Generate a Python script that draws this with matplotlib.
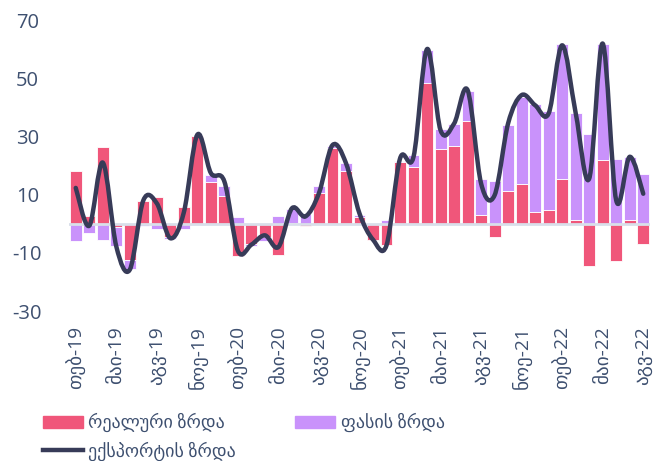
import numpy as np
import matplotlib
matplotlib.use('Agg')
import matplotlib.pyplot as plt
from matplotlib.path import Path
from matplotlib.patches import PathPatch, Patch
from matplotlib.lines import Line2D

plt.rcParams['font.family'] = ['Open Sans', 'DejaVu Sans']
plt.rcParams['axes.unicode_minus'] = False

# monthly, Feb-2019 .. Aug-2022
tick_labels = ['თებ-19', 'მაი-19', 'აგვ-19', 'ნოე-19',
               'თებ-20', 'მაი-20', 'აგვ-20', 'ნოე-20',
               'თებ-21', 'მაი-21', 'აგვ-21', 'ნოე-21',
               'თებ-22', 'მაი-22', 'აგვ-22']

real_growth = [18.0, 2.7, 26.3, -1.2, -12.4, 7.9, 9.2, -4.5, 5.7, 30.3,
               14.5, 9.4, -11.2, -7.0, -4.6, -10.7, 0.2, -0.9, 10.5, 26.0,
               18.0, 2.3, -5.5, -7.2, 21.2, 19.5, 48.2, 25.5, 26.7, 35.3,
               2.9, -4.7, 11.3, 13.5, 4.0, 4.6, 15.4, 1.2, -14.5, 21.8,
               -12.8, 1.4, -7.0]
price_growth = [-6.1, -3.2, -5.5, -6.6, -3.1, -0.9, -1.8, -0.8, -1.8, -0.5,
                2.3, 3.4, 2.3, -0.8, -1.4, 2.7, 4.8, 3.4, 2.3, 0.8,
                3.0, 0.8, 0.0, 1.1, 0.5, 4.0, 11.4, 6.9, 7.4, 10.2,
                12.4, 14.7, 22.5, 30.1, 37.1, 34.1, 46.2, 36.9, 30.7, 40.1,
                22.4, 21.6, 17.2]
export_growth = [12.3, -0.7, 21.0, -7.8, -15.8, 8.0, 7.0, -5.0, 3.9, 30.6,
                 17.4, 14.5, -9.3, -7.2, -4.0, -8.0, 5.3, 2.5, 10.5, 27.0,
                 20.8, 3.5, -5.5, -7.4, 22.4, 23.0, 60.0, 32.1, 34.4, 45.9,
                 13.8, 9.8, 34.5, 44.2, 40.7, 37.9, 61.3, 38.0, 15.5, 61.9,
                 8.0, 23.0, 10.3]

RED = '#f0567a'
PURPLE = '#c992fb'
NAVY = '#373b58'
TEXT = '#3e5070'


def smooth_path(xs, ys):
    # excel-like smoothed line: bezier segments with catmull-rom controls
    pts = np.column_stack([xs, ys]).astype(float)
    n = len(pts)
    verts = [pts[0]]
    codes = [Path.MOVETO]
    for i in range(n - 1):
        p0 = pts[i - 1] if i > 0 else pts[i]
        p1 = pts[i]
        p2 = pts[i + 1]
        p3 = pts[i + 2] if i + 2 < n else pts[i + 1]
        verts += [p1 + (p2 - p0) / 6, p2 - (p3 - p1) / 6, p2]
        codes += [Path.CURVE4] * 3
    return Path(verts, codes)


x = np.arange(len(real_growth))
real = np.array(real_growth)
price = np.array(price_growth)
price_bottom = np.where(price >= 0, np.maximum(real, 0), np.minimum(real, 0))

fig = plt.figure(figsize=(6.68, 4.61), dpi=100)
ax = fig.add_axes([69/668, 1 - 311/461, 581/668, 291/461])

ax.bar(x, real, width=0.88, color=RED, edgecolor='white', linewidth=0.6, zorder=2)
ax.bar(x, price, bottom=price_bottom, width=0.88, color=PURPLE,
       edgecolor='white', linewidth=0.6, zorder=2)
ax.axhline(0, color='#d9dfea', linewidth=2, zorder=2.5)
ax.add_patch(PathPatch(smooth_path(x, export_growth), facecolor='none',
                       edgecolor=NAVY, linewidth=3.2, capstyle='round',
                       joinstyle='round', zorder=3))

ax.set_xlim(-0.5, len(x) - 0.5)
ax.set_ylim(-30, 70)
ax.set_yticks([-30, -10, 10, 30, 50, 70])
ax.set_xticks(x[::3])
ax.set_xticklabels(tick_labels, rotation=90, fontsize=13.8, color=TEXT)
for s in ax.spines.values():
    s.set_visible(False)
ax.tick_params(axis='both', length=0)
ax.tick_params(axis='y', labelsize=14.5, labelcolor=TEXT, pad=30)
for lbl in ax.get_yticklabels():
    lbl.set_horizontalalignment('center')
ax.tick_params(axis='x', pad=11)

handles = [Patch(color=RED), Line2D([], [], color=NAVY, linewidth=3.2),
           Patch(color=PURPLE)]
labels = ['რეალური ზრდა', 'ექსპორტის ზრდა', 'ფასის ზრდა']
fig.legend(handles, labels, ncol=2, loc='upper left',
           bbox_to_anchor=(43/668, 1 - 413/461), frameon=False,
           borderpad=0, borderaxespad=0, fontsize=13, labelcolor=TEXT,
           handlelength=2.2, handletextpad=0.3, columnspacing=3.3,
           labelspacing=0.5)

fig.savefig('out.png', dpi=100)
